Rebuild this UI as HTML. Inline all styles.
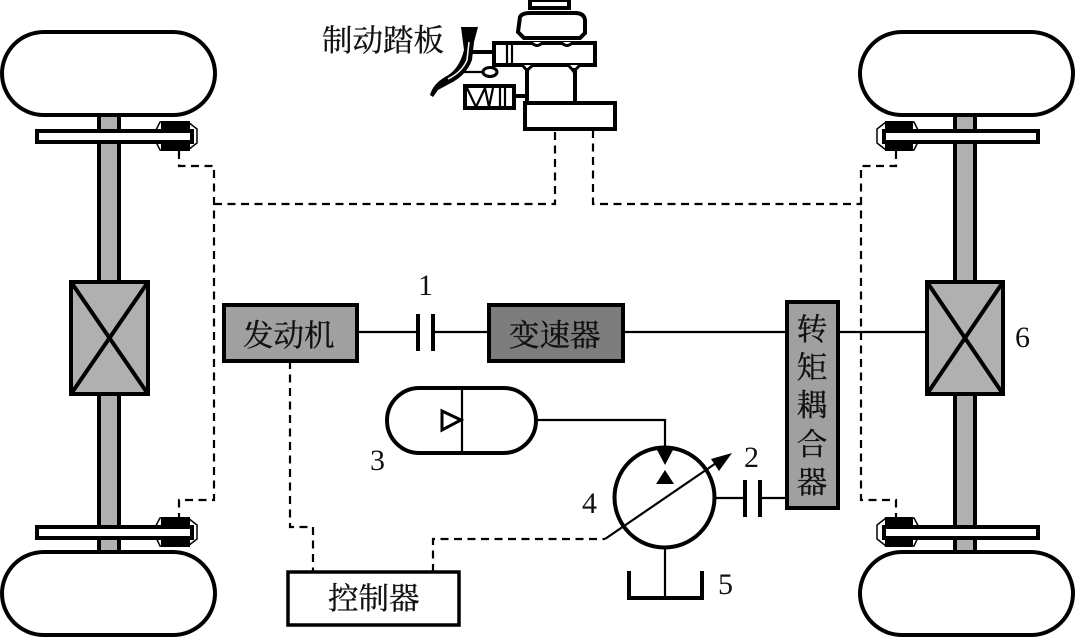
<!DOCTYPE html>
<html><head><meta charset="utf-8"><style>
html,body{margin:0;padding:0;background:#fff}
svg{display:block}
.cn{font-family:"Liberation Serif","Noto Serif CJK SC",serif;font-size:30.5px;fill:#111;stroke:#111;stroke-width:.35}
.n{font-family:"Liberation Serif",serif;font-size:30px;fill:#111}
.d{fill:none;stroke:#000;stroke-width:2.2;stroke-dasharray:8 5.5}
.l{fill:none;stroke:#000;stroke-width:2.2}
.b{fill:none;stroke:#000;stroke-width:4}
.w{fill:#fff;stroke:#000;stroke-width:4}
</style></head><body>
<svg width="1075" height="637" viewBox="0 0 1075 637" xmlns="http://www.w3.org/2000/svg">
<!-- axles -->
<rect x="99" y="115" width="20" height="438" fill="#b0b0b0" stroke="#000" stroke-width="4"/>
<rect x="955" y="115" width="20" height="438" fill="#b0b0b0" stroke="#000" stroke-width="4"/>
<!-- tires -->
<rect x="2" y="32" width="213" height="83" rx="42" class="w"/>
<rect x="2" y="552" width="213" height="83" rx="42" class="w"/>
<rect x="860" y="32" width="213" height="83" rx="42" class="w"/>
<rect x="860" y="552" width="213" height="83" rx="42" class="w"/>
<!-- diff boxes -->
<g fill="#b0b0b0" stroke="#000" stroke-width="4">
<rect x="71" y="282" width="77" height="112"/>
<path d="M71 282L148 394M148 282L71 394" fill="none"/>
<rect x="927" y="282" width="76" height="112"/>
<path d="M927 282L1003 394M1003 282L927 394" fill="none"/>
</g>
<!-- calipers -->
<path d="M160 122L153 136L160 150H188L197 143V129L188 122Z" fill="#fff" stroke="#000" stroke-width="1.5"/>
<rect x="161" y="121" width="29" height="30" fill="#000"/>
<rect x="37" y="131" width="155" height="11" fill="#fff" stroke="#000" stroke-width="4"/>
<path d="M160 518L153 531L160 546H188L197 539V525L188 518Z" fill="#fff" stroke="#000" stroke-width="1.5"/>
<rect x="161" y="517" width="29" height="30" fill="#000"/>
<rect x="37" y="527" width="155" height="11" fill="#fff" stroke="#000" stroke-width="4"/>
<path d="M914 122L921 136L914 150H886L877 143V129L886 122Z" fill="#fff" stroke="#000" stroke-width="1.5"/>
<rect x="885" y="121" width="28" height="30" fill="#000"/>
<rect x="884" y="131" width="154" height="11" fill="#fff" stroke="#000" stroke-width="4"/>
<path d="M914 518L921 531L914 546H886L877 539V525L886 518Z" fill="#fff" stroke="#000" stroke-width="1.5"/>
<rect x="885" y="517" width="28" height="30" fill="#000"/>
<rect x="884" y="527" width="154" height="11" fill="#fff" stroke="#000" stroke-width="4"/>
<!-- dashed -->
<path class="d" d="M179 151V166H214V500H179V517"/>
<path class="d" d="M214 204H555V130"/>
<path class="d" d="M593 130V204H861"/>
<path class="d" d="M896 151V166H861V500H896V517"/>
<path class="d" d="M290 361V527H313V572"/>
<path class="d" d="M433 572V539H605"/>
<!-- solid lines -->
<path class="l" d="M357 332H418M433 332H489M623 332H787M838 332H927"/>
<path class="b" d="M418 314V351M433 314V351"/>
<path class="l" d="M536 420H665V450"/>
<path class="l" d="M665 548V598M716 498H745M760 498H787"/>
<path class="b" d="M745 480V517M760 480V517"/>
<!-- boxes -->
<rect x="224" y="305" width="133" height="56" fill="#a0a0a0" stroke="#000" stroke-width="4"/>
<rect x="489" y="305" width="134" height="56" fill="#7d7d7d" stroke="#000" stroke-width="4"/>
<rect x="787" y="302" width="51" height="206" fill="#a0a0a0" stroke="#000" stroke-width="4"/>
<rect x="288" y="572" width="171" height="53" fill="#fff" stroke="#000" stroke-width="3.5"/>
<text class="cn" x="243" y="346">发动机</text>
<text class="cn" x="509" y="346">变速器</text>
<text class="cn" x="328" y="609">控制器</text>
<g class="cn" text-anchor="middle">
<text x="812" y="340">转</text><text x="812" y="378">矩</text><text x="812" y="416">耦</text><text x="812" y="455">合</text><text x="812" y="493">器</text>
</g>
<!-- accumulator -->
<rect x="387" y="388" width="149" height="65" rx="32.5" fill="#fff" stroke="#000" stroke-width="4"/>
<path d="M462 388V453" class="l" stroke-width="2.5"/>
<path d="M442 411V430L461 420Z" fill="#fff" stroke="#000" stroke-width="3"/>
<!-- pump -->
<circle cx="664.5" cy="497.5" r="50" fill="#fff" stroke="#000" stroke-width="4"/>
<path d="M656 448H674L665 465Z" fill="#000"/>
<path d="M656 484H674L665 470Z" fill="#000"/>
<path d="M605 539L722 459" class="l"/>
<path d="M732 453L711 459L719 471Z" fill="#000"/>
<path d="M629 571V598H702V571" class="b"/>
<!-- brake group -->
<text class="cn" x="322" y="51">制动踏板</text>
<rect x="530" y="0" width="39" height="8" fill="#fff" stroke="#000" stroke-width="4"/>
<path d="M520 17Q522 13 530 13H575Q584 13 585 20V33L580 38H524L518 32Z" fill="#fff" stroke="#000" stroke-width="4"/>
<rect x="494" y="43" width="101" height="22" fill="#fff" stroke="#000" stroke-width="4"/>
<path d="M507 43V65M512 43V65" class="l"/>
<path d="M531 42Q537 49 543 42M561 42Q567 49 573 42" fill="#fff" stroke="#000" stroke-width="3"/>
<path d="M522 65Q527 70 527 72Q527 70 533 65M568 65Q573 70 574 72Q575 70 580 65" fill="#fff" stroke="#000" stroke-width="3"/>
<path d="M527 68V103M575 68V103" class="b" stroke-width="3"/>
<rect x="525" y="103" width="90" height="26" fill="#fff" stroke="#000" stroke-width="4"/>
<rect x="465" y="86" width="49" height="22" fill="#fff" stroke="#000" stroke-width="4"/>
<path d="M467 88L476 107L485 88L489 107L493 88" class="l"/>
<path d="M500 87V107M505 87V107" class="l"/>
<path d="M514 96H526" class="b" stroke-width="3"/>
<path d="M461 27H478L474 42L472 60Q466 76 449 84L438 90L433 97L430 95Q433 84 445 77Q459 70 464 50Z" fill="#000"/>
<path d="M469 42L467 60Q462 72 448 79" stroke="#fff" stroke-width="1.5" fill="none"/>
<path d="M472 52H493" class="b" stroke-width="3"/>
<path d="M464 72H482" class="l"/>
<ellipse cx="490" cy="72" rx="7" ry="4.5" fill="#fff" stroke="#000" stroke-width="3"/>
<!-- numbers -->
<text class="n" x="418" y="295">1</text>
<text class="n" x="744" y="467">2</text>
<text class="n" x="370" y="470">3</text>
<text class="n" x="582" y="513">4</text>
<text class="n" x="718" y="594">5</text>
<text class="n" x="1015" y="347">6</text>
</svg>
</body></html>
